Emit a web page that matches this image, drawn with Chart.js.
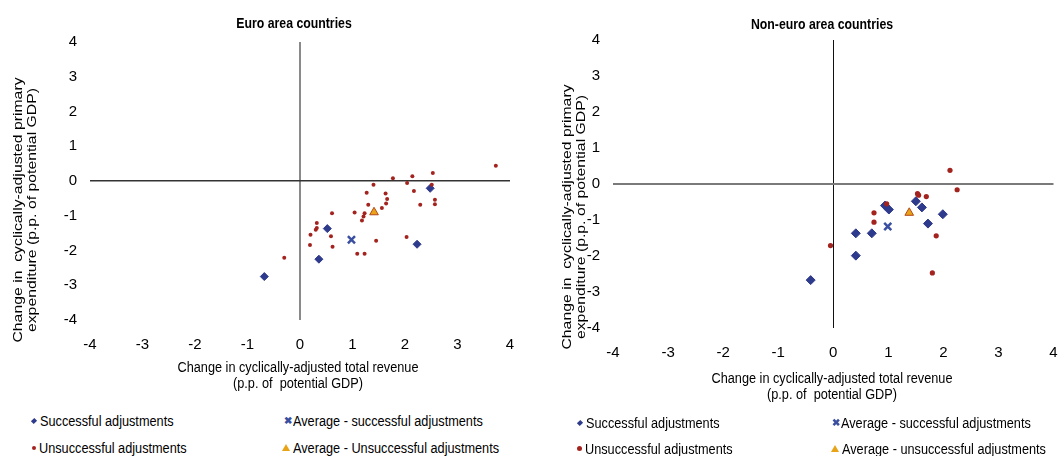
<!DOCTYPE html>
<html>
<head>
<meta charset="utf-8">
<script src="https://cdn.jsdelivr.net/npm/chart.js@4.4.0/dist/chart.umd.min.js"></script>
<style>
  body { margin: 0; background: #fff; }
  #wrap { position: relative; width: 1061px; height: 456px; overflow: hidden;
          font-family: 'Liberation Sans', Arial, sans-serif; color: #000; }
  .panel { position: absolute; top: 0; height: 400px; }
  .txt { position: absolute; font-size: 15.5px; line-height: 16px; white-space: nowrap; text-align: center; }
  .ytitle { font-size: 15.8px; line-height: 18px; transform: translate(-50%, -50%) rotate(-90deg) scaleY(0.82); }
  .xtitle { transform: translateX(-50%) scaleX(0.82); }
  .title { position: absolute; font-size: 15px; font-weight: bold; white-space: nowrap; transform: translate(-50%, -50%) scaleX(0.82); }
  .leg { position: absolute; font-size: 15.5px; line-height: 16px; white-space: nowrap; transform: translateY(-50%); }
  .lt { display: inline-block; transform: scaleX(0.82); transform-origin: left center; }
  .mk { display: inline-block; vertical-align: middle; margin-right: 3px; position: relative; top: -1px; }
  .dia { width: 4px; height: 4px; background: #2E3A8C; transform: rotate(45deg) scaleY(1.2); margin-left: 1px; margin-right: 4px; }
  .dot { width: 4px; height: 4px; border-radius: 50%; background: #A3231F; }
  .cross { color: #3A4FA0; font-weight: bold; font-size: 10px; margin-right: 1px; }
  .tri { width: 0; height: 0; border-left: 4px solid transparent; border-right: 4px solid transparent; border-bottom: 7px solid #E8A317; }
</style>
</head>
<body>
<div id="wrap">
  <div class="panel" style="left:0;width:530px"><canvas id="euroChart" width="530" height="400"></canvas></div>
  <div class="panel" style="left:530px;width:531px"><canvas id="nonEuroChart" width="531" height="400"></canvas></div>

  <div class="title" style="left:294px;top:22px">Euro area countries</div>
  <div class="title" style="left:822px;top:23px">Non-euro area countries</div>

  <div class="txt ytitle" style="left:25px;top:210px">Change in&nbsp; cyclically-adjusted primary<br>expenditure (p.p. of potential GDP)</div>
  <div class="txt xtitle" style="left:298px;top:359px">Change in cyclically-adjusted total revenue<br>(p.p. of&nbsp; potential GDP)</div>
  <div class="txt ytitle" style="left:574px;top:217px">Change in&nbsp; cyclically-adjusted primary<br>expenditure (p.p. of potential GDP)</div>
  <div class="txt xtitle" style="left:832px;top:370px">Change in cyclically-adjusted total revenue<br>(p.p. of&nbsp; potential GDP)</div>

  <div class="leg" style="left:31px;top:421px"><span class="mk dia"></span><span class="lt">Successful adjustments</span></div>
  <div class="leg" style="left:284px;top:421px"><span class="mk cross">&#x2716;</span><span class="lt">Average - successful adjustments</span></div>
  <div class="leg" style="left:32px;top:448px"><span class="mk dot"></span><span class="lt">Unsuccessful adjustments</span></div>
  <div class="leg" style="left:282px;top:448px"><span class="mk tri"></span><span class="lt">Average - Unsuccessful adjustments</span></div>

  <div class="leg" style="left:577px;top:423px"><span class="mk dia"></span><span class="lt">Successful adjustments</span></div>
  <div class="leg" style="left:832px;top:423px"><span class="mk cross">&#x2716;</span><span class="lt">Average - successful adjustments</span></div>
  <div class="leg" style="left:577px;top:449px"><span class="mk dot" style="width:5px;height:5px"></span><span class="lt">Unsuccessful adjustments</span></div>
  <div class="leg" style="left:831px;top:449px"><span class="mk tri"></span><span class="lt">Average - unsuccessful adjustments</span></div>
</div>

<script>
// Euro area countries
const euroSuccessX = [-0.68, 0.52, 0.36, 2.23, 2.48];
const euroSuccessY = [-2.75, -1.37, -2.25, -1.82, -0.21];
const euroUnsuccessX = [3.73, 2.53, 2.14, 1.77, 1.40, 2.04, 2.51, 2.17, 1.27, 1.63, 1.66, 2.57, 2.57, 1.30, 1.64, 2.29, 1.56,
                        0.61, 1.04, 1.23, 1.21, 1.18, 0.32, 0.32, 0.30, 0.20, 0.59, 1.45, 2.03, 0.19, 0.62, 1.09, 1.23, -0.30];
const euroUnsuccessY = [0.44, 0.23, 0.14, 0.08, -0.11, -0.06, -0.11, -0.29, -0.34, -0.36, -0.52, -0.54, -0.67, -0.68, -0.65, -0.68, -0.78,
                        -0.93, -0.91, -0.93, -1.02, -1.14, -1.21, -1.35, -1.40, -1.55, -1.59, -1.72, -1.61, -1.84, -1.89, -2.09, -2.09, -2.21];
const euroAvgSuccess = [0.98, -1.69];
const euroAvgUnsuccess = [1.41, -0.90];

// Non-euro area countries
const nonEuroSuccessX = [-0.41, 0.41, 0.41, 0.70, 0.94, 1.01, 1.50, 1.61, 1.72, 1.99];
const nonEuroSuccessY = [-2.67, -1.37, -1.99, -1.37, -0.60, -0.71, -0.48, -0.65, -1.10, -0.84];
const nonEuroUnsuccessX = [2.12, 2.25, 1.53, 1.55, 1.69, 0.97, 0.74, 0.74, 1.87, -0.05, 1.80];
const nonEuroUnsuccessY = [0.38, -0.16, -0.27, -0.31, -0.35, -0.55, -0.80, -1.06, -1.44, -1.71, -2.47];
const nonEuroAvgSuccess = [0.99, -1.18];
const nonEuroAvgUnsuccess = [1.38, -0.80];

const axisMin = -4, axisMax = 4;
const FONT = "'Liberation Sans', Arial, sans-serif";

function pts(xs, ys) {
    return xs.map((x, i) => ({ x: x, y: ys[i] }));
}

function makeChart(id, o) {
    const ctx = document.getElementById(id).getContext('2d');
    return new Chart(ctx, {
        type: 'scatter',
        data: {
            datasets: [
                { label: 'Average - unsuccessful adjustments', data: [{ x: o.avgUnsucc[0], y: o.avgUnsucc[1] }],
                  pointStyle: 'triangle', pointRadius: 5, backgroundColor: '#E8A317', borderColor: '#B5481A', borderWidth: 1 },
                { label: 'Average - successful adjustments', data: [{ x: o.avgSucc[0], y: o.avgSucc[1] }],
                  pointStyle: 'crossRot', pointRadius: 5, borderColor: '#3A4FA0', borderWidth: 2.5 },
                { label: 'Unsuccessful adjustments', data: pts(o.unX, o.unY),
                  pointStyle: 'circle', pointRadius: o.dotR, backgroundColor: '#A3231F', borderColor: '#A3231F', borderWidth: 0 },
                { label: 'Successful adjustments', data: pts(o.sX, o.sY),
                  pointStyle: 'rectRot', pointRadius: o.diaR, backgroundColor: '#2E3A8C', borderColor: '#2E3A8C', borderWidth: 1 }
            ]
        },
        options: {
            responsive: false,
            animation: false,
            events: [],
            layout: { padding: { left: 0, right: o.padRight, top: o.padTop, bottom: 0 } },
            plugins: {
                legend: { display: false },
                tooltip: { enabled: false }
            },
            scales: {
                x: {
                    type: 'linear', min: axisMin, max: axisMax,
                    afterFit: s => { s.height = o.xH; },
                    border: { display: false },
                    grid: {
                        drawTicks: true, tickLength: o.xPad, tickColor: 'rgba(0,0,0,0)',
                        color: c => c.tick && c.tick.value === 0 ? o.vColor : 'rgba(0,0,0,0)',
                        lineWidth: c => c.tick && c.tick.value === 0 ? o.vWidth : 0
                    },
                    ticks: { stepSize: 1, padding: 0, color: '#000', font: { family: FONT, size: 15 } }
                },
                y: {
                    type: 'linear', min: axisMin, max: axisMax,
                    afterFit: s => { s.width = o.yW; },
                    border: { display: false },
                    grid: {
                        drawTicks: false,
                        color: c => c.tick && c.tick.value === 0 ? o.hColor : 'rgba(0,0,0,0)',
                        lineWidth: c => c.tick && c.tick.value === 0 ? o.hWidth : 0
                    },
                    ticks: { stepSize: 1, padding: 13, color: '#000', font: { family: FONT, size: 15 } }
                }
            }
        }
    });
}

makeChart('euroChart', {
    sX: euroSuccessX, sY: euroSuccessY, unX: euroUnsuccessX, unY: euroUnsuccessY,
    avgSucc: euroAvgSuccess, avgUnsucc: euroAvgUnsuccess,
    dotR: 2, diaR: 4, padRight: 20, padTop: 42, yW: 90, xH: 80, xPad: 16,
    vColor: '#8a8a8a', vWidth: 2, hColor: '#333333', hWidth: 1.5
});

makeChart('nonEuroChart', {
    sX: nonEuroSuccessX, sY: nonEuroSuccessY, unX: nonEuroUnsuccessX, unY: nonEuroUnsuccessY,
    avgSucc: nonEuroAvgSuccess, avgUnsucc: nonEuroAvgUnsuccess,
    dotR: 2.6, diaR: 4.5, padRight: 6, padTop: 40, yW: 83, xH: 72, xPad: 16,
    vColor: '#111111', vWidth: 1, hColor: '#7a7a7a', hWidth: 2
});
</script>
</body>
</html>
